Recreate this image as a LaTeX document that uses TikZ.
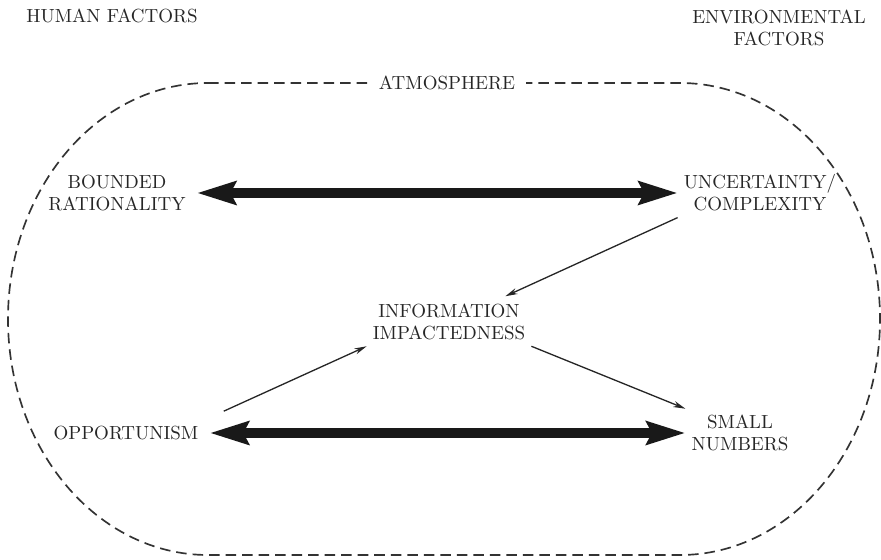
\documentclass[tikz,border=0pt]{standalone}
\usepackage{tikz}
\usetikzlibrary{arrows.meta}

\begin{document}
\begin{tikzpicture}[x=0.02cm, y=0.02cm,
	factor/.style={align=center, text=black!85, font=\fontsize{10.8}{12.6}\selectfont},
	bigarrow/.style={black!90, line width=6pt, {Stealth[length=22pt, width=13pt, inset=3pt]}-{Stealth[length=22pt, width=13pt, inset=3pt]}},
	smallarrow/.style={black!85, line width=0.75pt, -{Stealth[length=7pt, width=3.5pt]}}]
	\useasboundingbox (0,0) rectangle (881,560);

	% atmosphere boundary
	\draw[black!80, line width=0.95pt, dash pattern=on 6pt off 3.4pt] (208,477) -- (680,477) arc[start angle=90, end angle=-90, x radius=200, y radius=236] -- (208,5) arc[start angle=270, end angle=90, x radius=200, y radius=236] -- cycle;

	\node[factor] (human) at (112,544) {HUMAN FACTORS};
	\node[factor] (env) at (779,532) {ENVIRONMENTAL\\FACTORS};
	\node[factor, fill=white, inner xsep=6pt] (atmo) at (447,477) {ATMOSPHERE};
	\node[factor] (bounded) at (117,367) {BOUNDED\\RATIONALITY};
	\node[factor] (uncert) at (760,367) {UNCERTAINTY/\\COMPLEXITY};
	\node[factor] (info) at (449,238) {INFORMATION\\IMPACTEDNESS};
	\node[factor] (opp) at (126,127) {OPPORTUNISM};
	\node[factor] (small) at (740,127) {SMALL\\NUMBERS};

	\draw[bigarrow, shorten <=3pt] (bounded) -- (uncert);
	\draw[bigarrow, shorten <=3pt] (opp) -- (small);
	\draw[smallarrow, shorten >=2pt] (uncert.south west) -- (info);
	\draw[smallarrow, shorten <=12pt] (opp.north east) -- (info.south west);
	\draw[smallarrow] (info.south east) -- (small.north west);
\end{tikzpicture}
\end{document}
